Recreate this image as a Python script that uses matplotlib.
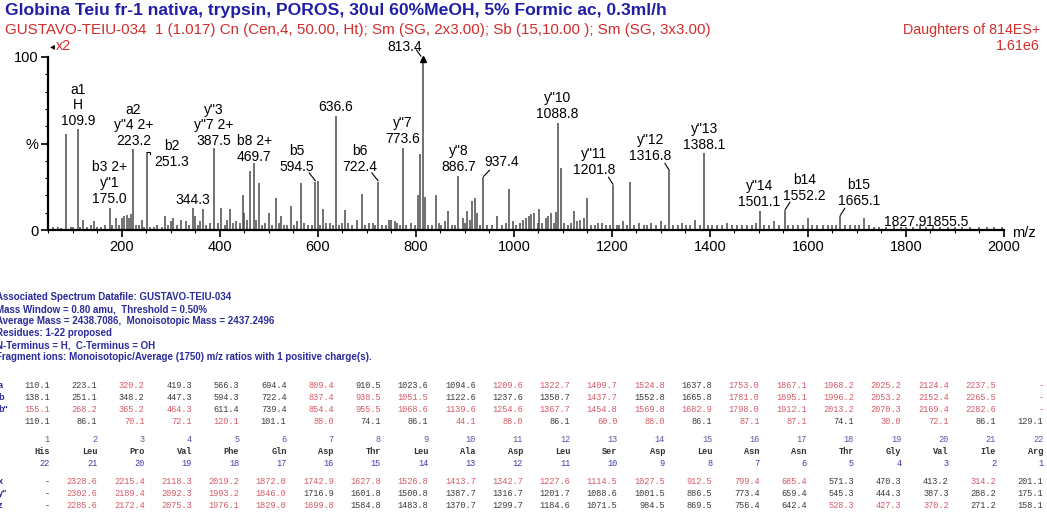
import matplotlib
matplotlib.use('Agg')
import matplotlib.pyplot as plt
from matplotlib.ticker import MultipleLocator

W, H = 1047, 525
FONT = ['Liberation Sans', 'DejaVu Sans']
MONO = ['Liberation Mono', 'DejaVu Sans Mono']
BLUE = '#1f1fa6'
RED = '#d42b2b'
PINK = '#d65a66'
DARK = '#3c3c3c'

# spectrum peaks (m/z, % of base peak)
peak_mz = [60, 70, 75, 86.1, 95, 101, 109.9, 115, 120, 129, 136, 143, 150, 158, 166, 175.0, 180, 187,
           193, 200, 205, 210, 214, 218, 223.2, 228, 234, 240, 245, 251.3, 258, 265, 272, 281, 287,
           294, 300, 305, 313, 320, 330, 337, 344.3, 348, 356, 360, 365, 372, 380, 387.5, 395, 403,
           410, 415, 420, 427, 433, 440, 446, 450, 455, 462, 469.7, 474, 480, 486, 492, 500, 507,
           515, 520, 525, 530, 537, 545, 552, 558, 565, 572, 580, 587, 594.5, 600, 605, 610, 617,
           625, 630, 636.6, 643, 648, 655, 662, 670, 680, 690, 696, 704, 712, 717, 722.4, 730, 738,
           745, 750, 757, 762, 768, 773.6, 780, 790, 797, 805, 808, 813.4, 818, 825, 832, 840, 846,
           852, 860, 866, 873, 880, 886.7, 895, 900, 905, 910, 915, 920, 924, 930, 937.4, 945, 955,
           965, 975, 983, 990, 997, 1005, 1012, 1018, 1025, 1030, 1035, 1040, 1048, 1052, 1058,
           1065, 1070, 1076, 1082, 1085, 1088.8, 1095, 1102, 1110, 1116, 1122, 1128, 1135, 1142,
           1150, 1158, 1165, 1172, 1180, 1188, 1195, 1201.8, 1210, 1215, 1222, 1230, 1237, 1245,
           1255, 1265, 1272, 1280, 1290, 1300, 1308, 1316.8, 1325, 1335, 1343, 1352, 1360, 1370,
           1380, 1388.1, 1396, 1405, 1415, 1425, 1435, 1445, 1455, 1465, 1475, 1485, 1494, 1501.1,
           1510, 1520, 1530, 1540, 1552.2, 1560, 1570, 1580, 1590, 1600, 1608, 1618, 1630, 1640,
           1650, 1658, 1665.1, 1675, 1685, 1695, 1705, 1715, 1725, 1735, 1745, 1760, 1775, 1790,
           1800, 1815, 1827.9, 1840, 1855.5, 1870, 1885, 1900, 1915, 1930, 1950, 1965, 1980, 1995]
peak_int = [1.5, 2, 1, 55.3, 2, 1.5, 58.4, 2, 6, 2, 3, 5, 1.5, 2, 3, 12.5, 3, 7,
            3, 7, 8, 8.5, 7, 9, 46.6, 3, 3, 6, 2, 45.3, 2, 2, 3, 2, 8,
            3, 5, 7, 3, 6, 5, 3, 12.5, 8, 3, 5, 12, 3, 4, 47.2, 4, 12.8,
            3, 6, 12, 4, 5, 4, 20, 10, 6, 34, 38.5, 6, 27, 3, 4, 10, 3,
            18.7, 4, 8, 3, 3, 14, 3, 5, 27, 4, 3, 3, 28, 28.3, 3, 12, 4,
            4, 3, 66, 3, 4, 11.5, 4, 3, 6, 20.8, 3, 4, 4, 3, 28, 3, 3,
            6, 6, 5, 4, 3, 47.6, 3, 4, 3, 20, 44, 100, 19, 3, 3, 20, 4,
            3, 5, 11, 3, 3, 31.4, 7, 4, 11, 6, 17, 18.5, 10, 3, 30.8, 3, 3,
            8, 3, 4, 23.7, 5, 3, 4, 6, 7, 8, 9, 10, 4, 12, 4,
            7, 8, 10, 4, 10.6, 62, 35.6, 4, 3, 4, 11, 5, 6, 7,
            18.3, 3, 3, 4, 4, 3, 3, 26, 3, 3, 5, 3, 27.6, 3,
            4, 3, 3, 4, 3, 5, 3, 34, 3, 3, 4, 3, 3, 6,
            3, 44.3, 3, 3, 3, 3, 4, 3, 3, 3, 3, 3, 4, 11.2,
            3, 3, 5, 3, 11.2, 3, 3, 3, 3, 7, 3, 3, 3, 3,
            3, 3, 8, 3, 3, 3, 3, 6.7, 3, 2, 2, 2, 3, 2,
            2, 2, 3, 2, 3, 2, 2, 2, 1.5, 2, 1.5, 2, 1.5, 1.5]

# annotated peaks
label_mz = [109.9, 175.0, 223.2, 251.3, 344.3, 387.5, 469.7, 594.5, 636.6, 722.4, 773.6,
            813.4, 886.7, 937.4, 1088.8, 1201.8, 1316.8, 1388.1, 1501.1, 1552.2, 1665.1]
label_text = ['a1\nH\n109.9', 'b3 2+\ny"1\n175.0', 'a2\ny"4 2+\n223.2', 'b2\n251.3', '344.3',
              'y"3\ny"7 2+\n387.5', 'b8 2+\n469.7', 'b5\n594.5', '636.6', 'b6\n722.4',
              'y"7\n773.6', '813.4', 'y"8\n886.7', '937.4', 'y"10\n1088.8', 'y"11\n1201.8',
              'y"12\n1316.8', 'y"13\n1388.1', 'y"14\n1501.1', 'b14\n1552.2', 'b15\n1665.1']

# fragment table
residues = ['His', 'Leu', 'Pro', 'Val', 'Phe', 'Gln', 'Asp', 'Thr', 'Leu', 'Ala', 'Asp',
            'Leu', 'Ser', 'Asp', 'Leu', 'Asn', 'Asn', 'Thr', 'Gly', 'Val', 'Ile', 'Arg']
ion_a = ['110.1', '223.1', '320.2', '419.3', '566.3', '694.4', '809.4', '910.5', '1023.6', '1094.6',
         '1209.6', '1322.7', '1409.7', '1524.8', '1637.8', '1753.0', '1867.1', '1968.2', '2025.2',
         '2124.4', '2237.5', '-']
ion_b = ['138.1', '251.1', '348.2', '447.3', '594.3', '722.4', '837.4', '938.5', '1051.5', '1122.6',
         '1237.6', '1350.7', '1437.7', '1552.8', '1665.8', '1781.0', '1895.1', '1996.2', '2053.2',
         '2152.4', '2265.5', '-']
ion_b2 = ['155.1', '268.2', '365.2', '464.3', '611.4', '739.4', '854.4', '955.5', '1068.6', '1139.6',
          '1254.6', '1367.7', '1454.8', '1569.8', '1682.9', '1798.0', '1912.1', '2013.2', '2070.3',
          '2169.4', '2282.6', '-']
ion_imm = ['110.1', '86.1', '70.1', '72.1', '120.1', '101.1', '88.0', '74.1', '86.1', '44.1', '88.0',
           '86.1', '60.0', '88.0', '86.1', '87.1', '87.1', '74.1', '30.0', '72.1', '86.1', '129.1']
ion_x = ['-', '2328.6', '2215.4', '2118.3', '2019.2', '1872.0', '1742.9', '1627.8', '1526.8', '1413.7',
         '1342.7', '1227.6', '1114.5', '1027.5', '912.5', '799.4', '685.4', '571.3', '470.3', '413.2',
         '314.2', '201.1']
ion_y = ['-', '2302.6', '2189.4', '2092.3', '1993.2', '1846.0', '1716.9', '1601.8', '1500.8', '1387.7',
         '1316.7', '1201.7', '1088.6', '1001.5', '886.5', '773.4', '659.4', '545.3', '444.3', '387.3',
         '288.2', '175.1']
ion_z = ['-', '2285.6', '2172.4', '2075.3', '1976.1', '1829.0', '1699.8', '1584.8', '1483.8', '1370.7',
         '1299.7', '1184.6', '1071.5', '984.5', '869.5', '756.4', '642.4', '528.3', '427.3', '370.2',
         '271.2', '158.1']
# 1 = found in spectrum (dark), 0 = not found (red)
found_a = [1, 1, 0, 1, 1, 1, 0, 1, 1, 1, 0, 0, 0, 0, 1, 0, 0, 0, 0, 0, 0, 0]
found_b = [1, 1, 1, 1, 1, 1, 0, 0, 0, 1, 1, 1, 0, 1, 1, 0, 0, 0, 0, 0, 0, 0]
found_b2 = [0, 0, 0, 0, 1, 1, 0, 0, 0, 0, 0, 0, 0, 0, 0, 0, 0, 0, 0, 0, 0, 0]
found_imm = [1, 1, 0, 0, 0, 1, 0, 1, 1, 0, 0, 1, 0, 0, 1, 0, 0, 1, 0, 0, 1, 1]
found_x = [1, 0, 0, 0, 0, 0, 0, 0, 0, 0, 0, 0, 0, 0, 0, 0, 0, 1, 1, 1, 0, 1]
found_y = [1, 0, 0, 0, 0, 0, 1, 1, 1, 1, 1, 1, 1, 1, 1, 1, 1, 1, 1, 1, 1, 1]
found_z = [1, 0, 0, 0, 0, 0, 0, 1, 1, 1, 1, 1, 1, 1, 1, 1, 1, 0, 0, 0, 1, 1]

header_lines = ['Associated Spectrum Datafile: GUSTAVO-TEIU-034',
                'Mass Window = 0.80 amu,  Threshold = 0.50%',
                'Average Mass = 2438.7086,  Monoisotopic Mass = 2437.2496',
                'Residues: 1-22 proposed',
                'N-Terminus = H,  C-Terminus = OH',
                'Fragment ions: Monoisotopic/Average (1750) m/z ratios with 1 positive charge(s).']


# pixel position -> figure fraction
def fig_xy(x, y):
    return x / W, 1 - y / H


def draw_spectrum(fig):
    ax = fig.add_axes([48 / W, 1 - 230 / H, (1004 - 48) / W, 173 / H])
    ax.vlines(peak_mz, 0, peak_int, color='#4a4a4a', lw=1.1)
    # off-scale precursor gets an arrow head
    ax.plot([813.4], [99], marker='^', color='black', ms=5, clip_on=False)
    ax.set_xlim(49, 2000)
    ax.set_ylim(0, 100)
    for s in ['top', 'right']:
        ax.spines[s].set_visible(False)
    ax.spines['left'].set_linewidth(1.6)
    ax.spines['bottom'].set_linewidth(1.6)
    ax.set_xticks(range(200, 2001, 200))
    ax.xaxis.set_minor_locator(MultipleLocator(50))
    ax.set_yticks([0, 50, 100])
    ax.set_yticklabels(['0', '%', '100'])
    ax.yaxis.set_minor_locator(MultipleLocator(10))
    ax.tick_params(which='major', length=5, width=1.2, labelsize=10.5, pad=2)
    ax.tick_params(which='minor', length=2.5, width=0.8)
    for lab in ax.get_xticklabels() + ax.get_yticklabels():
        lab.set_family(FONT)
    ax.text(1.008, -0.015, 'm/z', transform=ax.transAxes, ha='left', va='center',
            fontsize=10.5, family=FONT)

    # label positions (text x in m/z, text bottom in %, leader from / to)
    layout = {
        109.9: (109.9, 59.0, None),
        175.0: (175.0, 14.0, None),
        223.2: (223.2, 47.5, None),
        251.3: (302, 35.3, [(251.3, 45.3), (257, 45.3), (257, 44)]),
        344.3: (344.3, 13.3, None),
        387.5: (387.5, 47.5, None),
        469.7: (469.7, 38.2, None),
        594.5: (557, 32.5, [(582, 33), (594.5, 28.5)]),
        636.6: (636.6, 67.0, None),
        722.4: (686, 32.5, [(710, 33), (722.4, 28.5)]),
        773.6: (773.6, 48.6, None),
        813.4: (777, 101.5, [(801, 104), (810, 100.5)]),
        886.7: (886.7, 32.5, None),
        937.4: (974, 35.4, [(950, 34.5), (938, 31)]),
        1088.8: (1088.8, 63.0, None),
        1201.8: (1163, 30.6, [(1193, 30.5), (1201.8, 26.5)]),
        1316.8: (1278, 38.7, [(1308, 38.5), (1316.8, 34.5)]),
        1388.1: (1388.1, 45.0, None),
        1501.1: (1501.1, 12.1, None),
        1552.2: (1593, 15.6, [(1563, 16), (1553, 11.5)]),
        1665.1: (1704, 12.7, [(1675, 12.5), (1666, 8.5)]),
    }
    for mz, txt in zip(label_mz, label_text):
        tx, ty, leader = layout[mz]
        ax.text(tx, ty, txt, ha='center', va='bottom', fontsize=10, family=FONT,
                linespacing=1.15, clip_on=False)
        if leader:
            xs, ys = zip(*leader)
            ax.plot(xs, ys, color='black', lw=0.8, clip_on=False)
    ax.text(1841, 0.8, '1827.9', ha='right', va='bottom', fontsize=10, family=FONT)
    ax.text(1841, 0.8, '1855.5', ha='left', va='bottom', fontsize=10, family=FONT)
    return ax


def draw_titles(fig):
    fig.text(*fig_xy(5, 10), 'Globina Teiu fr-1 nativa, trypsin, POROS, 30ul 60%MeOH, 5% Formic ac, 0.3ml/h',
             color=BLUE, fontsize=12.6, fontweight='bold', family=FONT, va='center')
    fig.text(*fig_xy(5, 30), 'GUSTAVO-TEIU-034  1 (1.017) Cn (Cen,4, 50.00, Ht); Sm (SG, 2x3.00); '
             'Sb (15,10.00 ); Sm (SG, 3x3.00)', color=RED, fontsize=10.9, family=FONT, va='center')
    fig.text(*fig_xy(1040, 30), 'Daughters of 814ES+', color=RED, fontsize=10.3, family=FONT,
             va='center', ha='right')
    fig.text(*fig_xy(1040, 46), '1.61e6', color=RED, fontsize=10.3, family=FONT, va='center', ha='right')
    fig.text(*fig_xy(50, 46), '\u25c2', color='black', fontsize=7, family=FONT, va='center')
    fig.text(*fig_xy(56, 46), 'x2', color=RED, fontsize=10.3, family=FONT, va='center')


def draw_table(fig):
    for i, line in enumerate(header_lines):
        fig.text(*fig_xy(-4, 297 + 12 * i), line, color='#2b2b9c', fontsize=7.0,
                 fontweight='bold', family=FONT, va='center')

    col_right = [50 + 47.3 * i for i in range(22)]
    rows = [('a', ion_a, found_a, 386), ('b', ion_b, found_b, 398), ('b"', ion_b2, found_b2, 410),
            ('', ion_imm, found_imm, 422), ('x', ion_x, found_x, 482), ('y"', ion_y, found_y, 494),
            ('z', ion_z, found_z, 506)]
    for name, vals, found, y in rows:
        fig.text(*fig_xy(-2, y), name, color='#2b2b9c', fontsize=6.6, fontweight='bold',
                 family=FONT, va='center')
        for x, v, f in zip(col_right, vals, found):
            fig.text(*fig_xy(x, y), v, color=DARK if f else PINK, fontsize=6.2,
                     family=MONO, ha='right', va='center')

    for i, (x, res) in enumerate(zip(col_right, residues)):
        fig.text(*fig_xy(x, 440), str(i + 1), color='#5555a5', fontsize=6.2, family=MONO,
                 ha='right', va='center')
        fig.text(*fig_xy(x, 452), res, color='#333333', fontsize=6.2, family=MONO,
                 fontweight='bold', ha='right', va='center')
        fig.text(*fig_xy(x, 464), str(len(residues) - i), color='#3b3bb0', fontsize=6.2,
                 family=MONO, ha='right', va='center')


def main():
    fig = plt.figure(figsize=(W / 100, H / 100), dpi=100)
    draw_spectrum(fig)
    draw_titles(fig)
    draw_table(fig)
    fig.savefig('out.png', dpi=100)


if __name__ == '__main__':
    main()
